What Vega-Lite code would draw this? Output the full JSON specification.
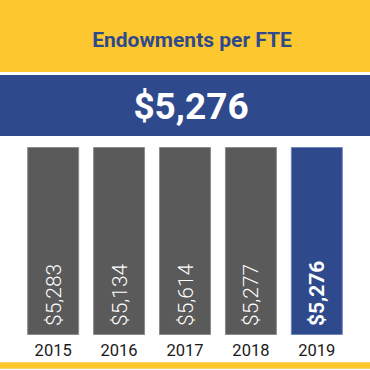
{
  "$schema": "https://vega.github.io/schema/vega-lite/v6.json",
  "padding": 0,
  "background": "white",
  "config": {"view": {"stroke": null}},
  "datasets": {
    "endow": [
      {"year": "2015", "value": 5283},
      {"year": "2016", "value": 5134},
      {"year": "2017", "value": 5614},
      {"year": "2018", "value": 5277},
      {"year": "2019", "value": 5276}
    ]
  },
  "spacing": 10.5,
  "vconcat": [
    {
      "spacing": 3,
      "bounds": "flush",
      "vconcat": [
        {
          "width": 370,
          "height": 72,
          "view": {"fill": "#FDC72F", "stroke": null},
          "data": {"values": [{"label": "Endowments per FTE"}]},
          "mark": {"type": "text", "font": "Roboto", "fontWeight": "bold", "fontSize": 21, "color": "#2F4A8C", "align": "center", "baseline": "alphabetic", "dx": 7, "dy": 11},
          "encoding": {"text": {"field": "label", "type": "nominal"}}
        },
        {
          "width": 370,
          "height": 61,
          "view": {"fill": "#2F4A8C", "stroke": null},
          "data": {"name": "endow"},
          "transform": [{"filter": "datum.year === '2019'"}],
          "mark": {"type": "text", "font": "Roboto", "fontWeight": "bold", "fontSize": 37, "color": "white", "align": "center", "baseline": "alphabetic", "dx": 6, "dy": 13},
          "encoding": {"text": {"field": "value", "type": "quantitative", "format": "$,.0f"}}
        }
      ]
    },
    {
      "spacing": 28,
      "bounds": "flush",
      "vconcat": [
        {
          "width": 370,
          "height": 187,
          "data": {"name": "endow"},
          "layer": [
            {
              "mark": {"type": "bar", "strokeWidth": 1},
              "encoding": {
                "x": {
                  "field": "year",
                  "type": "ordinal",
                  "scale": {"paddingInner": 0.227, "paddingOuter": 0.42},
                  "axis": {"title": null, "domain": false, "ticks": false, "labelPadding": 7.5, "labelFont": "Roboto", "labelFontSize": 16.5, "labelColor": "#1a1a1a", "labelAngle": 0}
                },
                "color": {"condition": {"test": "datum.year === '2019'", "value": "#2F4A8C"}, "value": "#5A5A5A"},
                "stroke": {"condition": {"test": "datum.year === '2019'", "value": "#6F84BB"}, "value": "#8A8A8A"}
              }
            },
            {
              "transform": [{"filter": "datum.year !== '2019'"}],
              "mark": {"type": "text", "font": "Roboto", "fontWeight": 300, "fontSize": 21, "color": "white", "angle": 270, "align": "left", "baseline": "alphabetic", "dx": 8.5, "dy": 7.5},
              "encoding": {
                "x": {"field": "year", "type": "ordinal"},
                "y": {"datum": 0, "type": "quantitative", "scale": {"domain": [0, 1]}, "axis": null},
                "text": {"field": "value", "type": "quantitative", "format": "$,.0f"}
              }
            },
            {
              "transform": [{"filter": "datum.year === '2019'"}],
              "mark": {"type": "text", "font": "Roboto", "fontWeight": "bold", "fontSize": 21, "color": "white", "angle": 270, "align": "left", "baseline": "alphabetic", "dx": 8.5, "dy": 7.5},
              "encoding": {
                "x": {"field": "year", "type": "ordinal"},
                "y": {"datum": 0, "type": "quantitative", "scale": {"domain": [0, 1]}, "axis": null},
                "text": {"field": "value", "type": "quantitative", "format": "$,.0f"}
              }
            }
          ]
        },
        {
          "width": 370,
          "height": 6,
          "view": {"fill": "#FDC72F", "stroke": null},
          "data": {"values": [{}]},
          "mark": {"type": "rect", "color": "#FDC72F"},
          "encoding": {}
        }
      ]
    }
  ]
}
